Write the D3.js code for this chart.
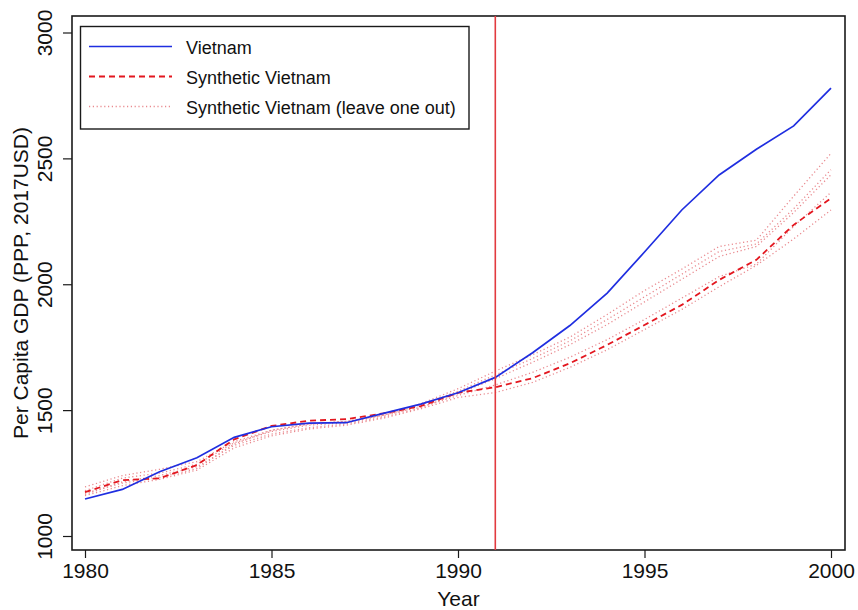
<!DOCTYPE html>
<html>
<head>
<meta charset="utf-8">
<script src="https://cdn.jsdelivr.net/npm/d3@7"></script>
<style>
  body { margin: 0; background: #fff; }
  svg { display: block; font-family: "Liberation Sans", Arial, sans-serif; }
</style>
</head>
<body>
<svg id="chart" width="858" height="610"></svg>
<script>
// Years 1980–2000
const years = d3.range(1980, 2001);

// Per capita GDP (PPP, 2017 USD)
const vietnam = [1147, 1185, 1255, 1311, 1392, 1434, 1448, 1450, 1487, 1524, 1569,
                 1630, 1728, 1836, 1965, 2128, 2295, 2434, 2536, 2629, 2779];
const synthetic = [1174, 1222, 1229, 1282, 1384, 1437, 1458, 1464, 1487, 1516, 1569,
                   1591, 1627, 1686, 1759, 1838, 1918, 2017, 2097, 2236, 2342];

// Leave-one-out synthetic controls
const looA = [1195, 1240, 1265, 1295, 1375, 1420, 1445, 1455, 1480, 1525, 1585,
              1655, 1720, 1790, 1880, 1975, 2060, 2150, 2175, 2350, 2520];
const looB = [1180, 1230, 1250, 1285, 1370, 1415, 1440, 1450, 1478, 1520, 1575,
              1640, 1705, 1775, 1860, 1950, 2040, 2130, 2160, 2300, 2455];
const looC = [1165, 1215, 1240, 1275, 1360, 1405, 1430, 1445, 1472, 1510, 1565,
              1625, 1690, 1760, 1840, 1930, 2020, 2110, 2150, 2285, 2435];
const looD = [1170, 1210, 1232, 1268, 1365, 1420, 1445, 1455, 1480, 1512, 1558,
              1600, 1650, 1710, 1780, 1860, 1945, 2030, 2080, 2230, 2365];
const looE = [1160, 1200, 1225, 1262, 1350, 1398, 1425, 1440, 1468, 1505, 1550,
              1570, 1610, 1670, 1740, 1820, 1900, 1990, 2075, 2180, 2295];
const looSeries = [looA, looB, looC, looD, looE];

const xTicks = [1980, 1985, 1990, 1995, 2000];
const yTicks = [1000, 1500, 2000, 2500, 3000];
const treatmentYear = 1991;

const legendLabels = ["Vietnam", "Synthetic Vietnam", "Synthetic Vietnam (leave one out)"];

const svg = d3.select("#chart");
const frame = { left: 72, right: 845, top: 16, bottom: 550 };
const axisFont = 21;

const x = d3.scaleLinear().domain([1980, 2000]).range([85, 831]);
const y = d3.scaleLinear().domain([1000, 3000]).range([536, 32.5]);

const line = vals => d3.line()
  .x((d, i) => x(years[i]))
  .y(d => y(d))(vals);

// plot frame
svg.append("rect")
  .attr("x", frame.left).attr("y", frame.top)
  .attr("width", frame.right - frame.left).attr("height", frame.bottom - frame.top)
  .attr("fill", "none").attr("stroke", "#1a1a1a").attr("stroke-width", 1.6);

// x axis
const xAxis = svg.append("g")
  .attr("transform", `translate(0,${frame.bottom})`)
  .call(d3.axisBottom(x).tickValues(xTicks).tickFormat(d3.format("d"))
    .tickSize(8).tickSizeOuter(0));
xAxis.select(".domain").remove();
xAxis.selectAll("line").attr("stroke", "#1a1a1a").attr("stroke-width", 1.2);
xAxis.selectAll("text").attr("font-size", axisFont).attr("fill", "#111")
  .attr("dy", "0.71em").attr("y", 13);

// y axis
const yAxis = svg.append("g")
  .attr("transform", `translate(${frame.left},0)`)
  .call(d3.axisLeft(y).tickValues(yTicks).tickFormat(d3.format("d"))
    .tickSize(9).tickSizeOuter(0));
yAxis.select(".domain").remove();
yAxis.selectAll("line").attr("stroke", "#1a1a1a").attr("stroke-width", 1.2);
yAxis.selectAll("text")
  .attr("font-size", axisFont).attr("fill", "#111")
  .attr("x", null).attr("dy", null)
  .attr("text-anchor", "middle")
  .attr("transform", "translate(-27,0) rotate(-90)")
  .attr("y", 0).attr("dy", "0.35em");

// axis titles
svg.append("text")
  .attr("x", (frame.left + frame.right) / 2).attr("y", 606)
  .attr("text-anchor", "middle").attr("font-size", axisFont).attr("fill", "#111")
  .text("Year");
svg.append("text")
  .attr("transform", `translate(21,${(frame.top + frame.bottom) / 2}) rotate(-90)`)
  .attr("text-anchor", "middle").attr("dy", "0.35em")
  .attr("font-size", axisFont).attr("fill", "#111")
  .text("Per Capita GDP (PPP, 2017USD)");

// leave-one-out lines
const looColor = "#e98a8f";
svg.append("g").selectAll("path").data(looSeries).join("path")
  .attr("d", d => line(d))
  .attr("fill", "none").attr("stroke", looColor)
  .attr("stroke-width", 1.3).attr("stroke-dasharray", "1.2,2.6");

// synthetic Vietnam
svg.append("path").attr("d", line(synthetic))
  .attr("fill", "none").attr("stroke", "#e3171f")
  .attr("stroke-width", 1.8).attr("stroke-dasharray", "6,4");

// Vietnam
svg.append("path").attr("d", line(vietnam))
  .attr("fill", "none").attr("stroke", "#1f2ee0").attr("stroke-width", 1.7);

// treatment year marker
svg.append("line")
  .attr("x1", x(treatmentYear)).attr("x2", x(treatmentYear))
  .attr("y1", frame.top).attr("y2", frame.bottom)
  .attr("stroke", "#e23a3f").attr("stroke-width", 1.6);

// legend
const lg = svg.append("g");
lg.append("rect").attr("x", 80.5).attr("y", 26.5).attr("width", 388.5).attr("height", 102.5)
  .attr("fill", "#fff").attr("stroke", "#1a1a1a").attr("stroke-width", 1.4);
const legendStyles = [
  { stroke: "#1f2ee0", dash: null, w: 1.7 },
  { stroke: "#e3171f", dash: "6,4", w: 1.8 },
  { stroke: looColor, dash: "1.2,2.6", w: 1.3 }
];
legendLabels.forEach((lab, i) => {
  const cy = 46.5 + i * 30;
  lg.append("line").attr("x1", 89).attr("x2", 172).attr("y1", cy).attr("y2", cy)
    .attr("stroke", legendStyles[i].stroke).attr("stroke-width", legendStyles[i].w)
    .attr("stroke-dasharray", legendStyles[i].dash);
  lg.append("text").attr("x", 186).attr("y", cy + 1.5).attr("dy", "0.35em")
    .attr("font-size", 18).attr("fill", "#111").text(lab);
});
</script>
</body>
</html>
